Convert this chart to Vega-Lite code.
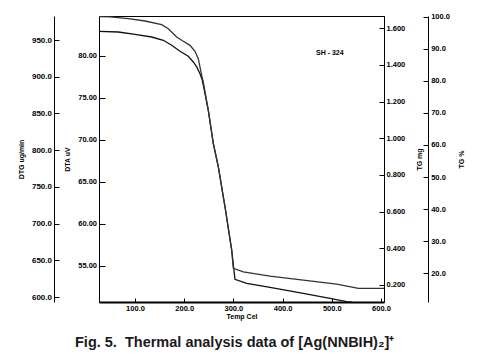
{
  "$schema": "https://vega.github.io/schema/vega-lite/v6.json",
  "width": 285,
  "height": 286,
  "autosize": {"type": "none"},
  "padding": {"left": 99, "top": 16, "right": 93, "bottom": 56},
  "background": "white",
  "config": {
    "view": {"stroke": "black", "strokeWidth": 1},
    "axis": {
      "grid": false,
      "domainColor": "black",
      "tickColor": "black",
      "labelColor": "black",
      "titleColor": "black",
      "labelFont": "Liberation Sans",
      "labelFontWeight": "bold",
      "labelFontSize": 7.5,
      "titleFont": "Liberation Sans",
      "titleFontWeight": "bold",
      "titleFontSize": 7,
      "labelFlush": false,
      "labelOverlap": false,
      "tickWidth": 1,
      "domainWidth": 1
    }
  },
  "datasets": {
    "upper": [
      {"T": 26.8, "pct": 100.0},
      {"T": 49.2, "pct": 99.9},
      {"T": 86.4, "pct": 99.36},
      {"T": 120.3, "pct": 98.64},
      {"T": 154.2, "pct": 97.49},
      {"T": 167.7, "pct": 96.24},
      {"T": 184.7, "pct": 93.65},
      {"T": 198.1, "pct": 92.31},
      {"T": 211.8, "pct": 91.06},
      {"T": 221.9, "pct": 89.19},
      {"T": 228.6, "pct": 86.89},
      {"T": 235.5, "pct": 81.71},
      {"T": 238.8, "pct": 79.62},
      {"T": 248.9, "pct": 70.89},
      {"T": 259.1, "pct": 60.51},
      {"T": 269.3, "pct": 53.21},
      {"T": 279.4, "pct": 43.86},
      {"T": 282.9, "pct": 40.74},
      {"T": 296.5, "pct": 27.24},
      {"T": 299.8, "pct": 21.54},
      {"T": 320.1, "pct": 20.47},
      {"T": 374.4, "pct": 19.13},
      {"T": 442.0, "pct": 17.88},
      {"T": 509.9, "pct": 16.64},
      {"T": 543.7, "pct": 15.61},
      {"T": 553.8, "pct": 15.3},
      {"T": 606.1, "pct": 15.3}
    ],
    "lower": [
      {"T": 26.8, "mg": 1.5835},
      {"T": 66.0, "mg": 1.5797},
      {"T": 100.0, "mg": 1.5672},
      {"T": 133.9, "mg": 1.5524},
      {"T": 157.5, "mg": 1.5344},
      {"T": 174.6, "mg": 1.5072},
      {"T": 191.4, "mg": 1.4744},
      {"T": 208.3, "mg": 1.4472},
      {"T": 218.5, "mg": 1.4161},
      {"T": 225.4, "mg": 1.3891},
      {"T": 232.1, "mg": 1.3523},
      {"T": 236.8, "mg": 1.3163},
      {"T": 248.9, "mg": 1.1542},
      {"T": 259.1, "mg": 0.9726},
      {"T": 269.3, "mg": 0.8449},
      {"T": 279.4, "mg": 0.6813},
      {"T": 282.9, "mg": 0.6267},
      {"T": 296.5, "mg": 0.3906},
      {"T": 303.2, "mg": 0.2307},
      {"T": 327.0, "mg": 0.2089},
      {"T": 374.4, "mg": 0.187},
      {"T": 442.0, "mg": 0.1543},
      {"T": 496.3, "mg": 0.127},
      {"T": 530.2, "mg": 0.1085},
      {"T": 541.0, "mg": 0.1068}
    ],
    "note": [
      {"T": 496, "pct": 88.7, "label": "SH - 324"}
    ]
  },
  "title": {
    "text": "Fig. 5.\u00a0 Thermal analysis data of [Ag(NNBIH)₂]⁺",
    "orient": "bottom",
    "anchor": "start",
    "frame": "group",
    "offset": 16,
    "dx": -24,
    "font": "Liberation Sans",
    "fontSize": 14.5,
    "fontWeight": "bold",
    "color": "#1a1a1a",
    "baseline": "top"
  },
  "encoding": {
    "x": {
      "field": "T",
      "type": "quantitative",
      "scale": {"domain": [26.8, 606.1], "nice": false, "zero": false},
      "axis": {
        "title": "Temp Cel",
        "values": [100, 200, 300, 400, 500, 600],
        "format": ".1f",
        "tickSize": -4,
        "labelPadding": 6,
        "domainWidth": 2,
        "titlePadding": 1
      }
    }
  },
  "layer": [
    {
      "data": {"name": "upper"},
      "mark": {"type": "point", "opacity": 0},
      "encoding": {
        "y": {
          "datum": 600,
          "type": "quantitative",
          "scale": {"domain": [593.2, 982.7], "nice": false, "zero": false},
          "axis": {
            "orient": "left",
            "offset": 45,
            "title": "DTG ug/min",
            "values": [600, 650, 700, 750, 800, 850, 900, 950],
            "format": ".1f",
            "tickSize": -5,
            "labelPadding": 7.5,
            "labelFontSize": 8,
            "titlePadding": 6.5
          }
        }
      }
    },
    {
      "data": {"name": "upper"},
      "mark": {"type": "point", "opacity": 0},
      "encoding": {
        "y": {
          "datum": 60,
          "type": "quantitative",
          "scale": {"domain": [50.72, 84.72], "nice": false, "zero": false},
          "axis": {
            "orient": "left",
            "offset": 0,
            "title": "DTA uV",
            "values": [55, 60, 65, 70, 75, 80],
            "format": ".2f",
            "tickSize": -6,
            "labelPadding": 8.5,
            "titlePadding": 7
          }
        }
      }
    },
    {
      "data": {"name": "lower"},
      "mark": {"type": "line", "color": "#111111", "strokeWidth": 1.3},
      "encoding": {
        "y": {
          "field": "mg",
          "type": "quantitative",
          "scale": {"domain": [0.107, 1.667], "nice": false, "zero": false},
          "axis": {
            "orient": "right",
            "offset": 0,
            "title": "TG mg",
            "titleAngle": 270,
            "values": [0.2, 0.4, 0.6, 0.8, 1.0, 1.2, 1.4, 1.6],
            "format": ".3f",
            "tickSize": -5,
            "labelPadding": 7,
            "titlePadding": 17.5
          }
        }
      }
    },
    {
      "data": {"name": "upper"},
      "mark": {"type": "line", "color": "#333333", "strokeWidth": 1.3},
      "encoding": {
        "y": {
          "field": "pct",
          "type": "quantitative",
          "scale": {"domain": [11.05, 100.2], "nice": false, "zero": false},
          "axis": {
            "orient": "right",
            "offset": 44,
            "title": "TG %",
            "titleAngle": 270,
            "values": [20, 30, 40, 50, 60, 70, 80, 90, 100],
            "format": ".1f",
            "tickSize": -5,
            "labelPadding": 7.7,
            "titlePadding": 15.5
          }
        }
      }
    },
    {
      "data": {"name": "note"},
      "mark": {"type": "text", "font": "Liberation Sans", "fontWeight": "bold", "fontSize": 7, "color": "black"},
      "encoding": {
        "y": {
          "field": "pct",
          "type": "quantitative",
          "scale": {"domain": [11.05, 100.2], "nice": false, "zero": false},
          "axis": null
        },
        "text": {"field": "label"}
      }
    }
  ],
  "resolve": {"scale": {"y": "independent"}}
}
